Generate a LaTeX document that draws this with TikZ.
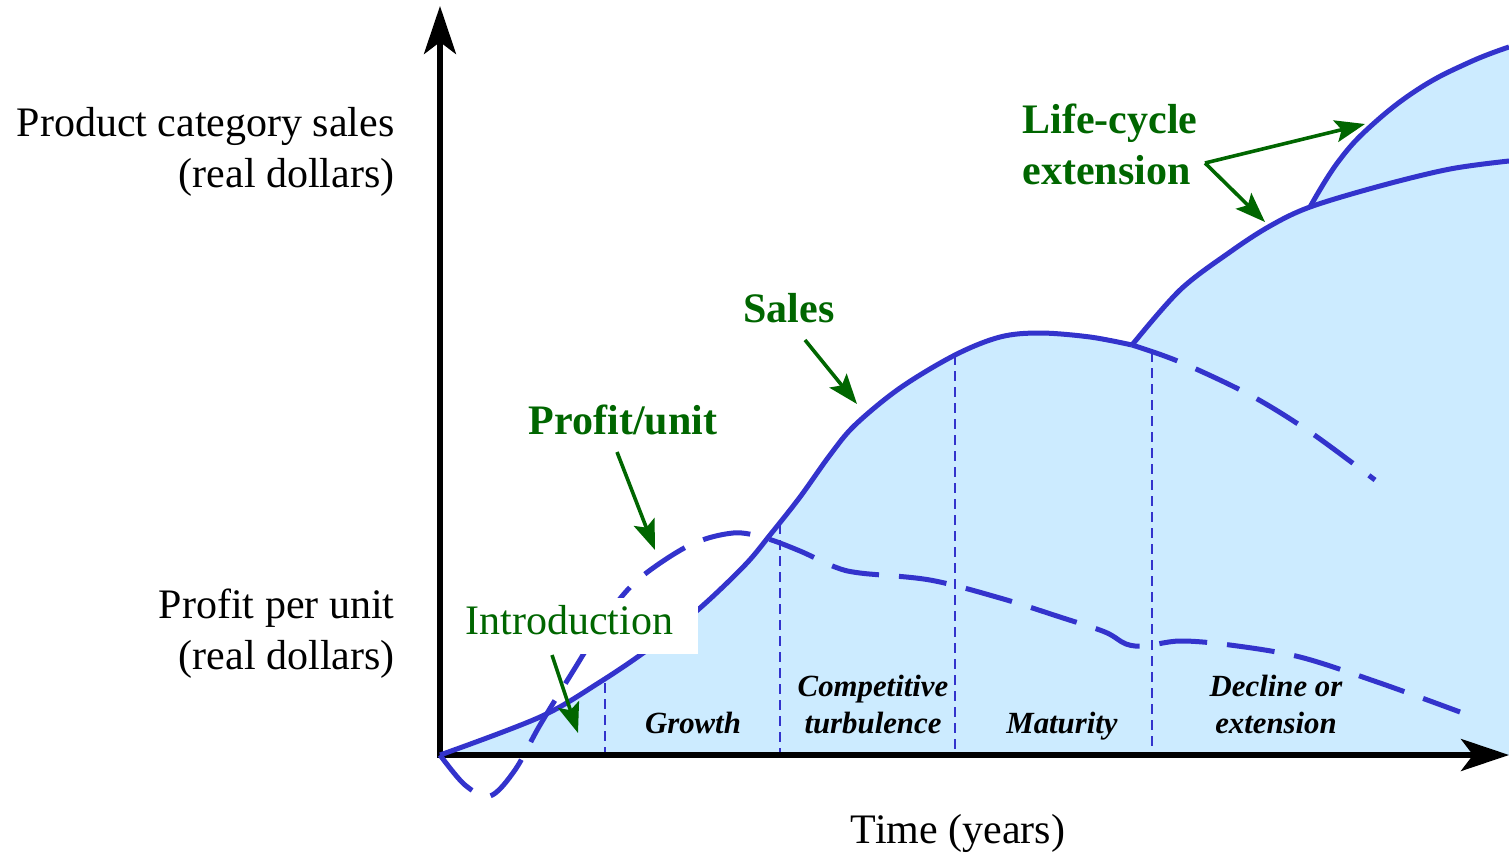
\documentclass[tikz,border=0pt]{standalone}
\usepackage{fontspec}
\setmainfont{Liberation Serif}
\usetikzlibrary{arrows.meta}
\definecolor{curveblue}{RGB}{51,51,204}
\definecolor{areablue}{RGB}{204,235,255}
\definecolor{lblgreen}{RGB}{0,102,0}
\tikzset{
  big/.style={font=\fontsize{21}{25.5}\selectfont, inner sep=0pt},
  biglabel/.style={big, text=lblgreen, font=\fontsize{21}{25.5}\selectfont\bfseries},
  phase/.style={font=\fontsize{15.4}{18.5}\selectfont\bfseries\itshape, align=center, inner sep=0pt},
  curve/.style={draw=curveblue, line width=2.5pt},
  dashcurve/.style={curve, dash pattern=on 24pt off 10pt},
  divider/.style={draw=curveblue, line width=0.8pt, dash pattern=on 5pt off 3pt},
  axis/.style={draw=black, line width=2.6pt, {Stealth[length=24pt,width=16pt,inset=6pt]}-{Stealth[length=24pt,width=16pt,inset=6pt]}},
  pointer/.style={draw=lblgreen, line width=1.8pt, -{Stealth[length=15pt,width=11pt,inset=3pt]}}
}
\begin{document}
\begin{tikzpicture}[x=0.5pt,y=-0.5pt]
\useasboundingbox (0,0) rectangle (1509,853);
% filled area under sales
\fill[areablue] (440,755)
  -- plot[smooth,tension=0.55] coordinates {(440,755) (540,717) (600,682) (650,648) (700,608) (745,565) (770,535) (800,497) (830,455) (855,425) (900,388) (955,355) (1000,337) (1040,333) (1090,337) (1132,345)}
  -- plot[smooth,tension=0.55] coordinates {(1132,345) (1180,290) (1230,252) (1270,226) (1310,207) (1380,186) (1450,169) (1509,161)}
  -- (1509,755) -- cycle;
\fill[areablue] plot[smooth,tension=0.7] coordinates {(1310,207) (1338,162) (1372,125) (1420,88) (1470,62) (1509,47)}
  -- (1509,300) -- (1310,300) -- cycle;
% phase dividers
\coordinate (d1t) at (605,683); \coordinate (d1b) at (605,755);
\coordinate (d2t) at (780,524); \coordinate (d2b) at (780,755);
\coordinate (d3t) at (955,355); \coordinate (d3b) at (955,755);
\coordinate (d4t) at (1152,352); \coordinate (d4b) at (1152,755);
\draw[divider] (d1t) -- (d1b);
\draw[divider] (d2t) -- (d2b);
\draw[divider] (d3t) -- (d3b);
\draw[divider] (d4t) -- (d4b);
% axes
\coordinate (ytip) at (440,6);
\coordinate (origin) at (440,755);
\coordinate (xtip) at (1509,755);
\draw[axis] (ytip) -- (origin) -- (xtip);
% sales curve
\draw[curve] plot[smooth,tension=0.55] coordinates {(440,755) (540,717) (600,682) (650,648) (700,608) (745,565) (770,535) (800,497) (830,455) (855,425) (900,388) (955,355) (1000,337) (1040,333) (1090,337) (1132,345)};
\draw[curve] plot[smooth,tension=0.55] coordinates {(1132,345) (1180,290) (1230,252) (1270,226) (1310,207) (1380,186) (1450,169) (1509,161)};
\draw[curve] plot[smooth,tension=0.7] coordinates {(1310,207) (1338,162) (1372,125) (1420,88) (1470,62) (1509,47)};
\draw[dashcurve] plot[smooth,tension=0.55] coordinates {(1132,345) (1180,362) (1250,395) (1310,432) (1375,480)};
% profit per unit curve
\draw[dashcurve] plot[smooth,tension=0.55] coordinates {(440,755) (465,785) (490,796) (515,770) (540,725) (575,668) (610,612) (640,578) (690,545) (733,533) (765,538) (800,551) (835,567) (860,573) (930,580) (1000,598) (1060,617) (1105,632) (1126,644) (1145,646) (1180,641) (1230,645) (1300,657) (1380,683) (1460,712)};
% Introduction label with white box
\fill[white] (460,598) rectangle (698,654);
\node[big, text=lblgreen, anchor=base west] (intro) at (465,634) {Introduction};
\coordinate (introstart) at (552,655);
\coordinate (introtip) at (578,733);
\draw[pointer] (introstart) -- (introtip);
% Profit/unit
\node[biglabel, anchor=base] (profit) at (623,434) {Profit/unit};
\coordinate (profittip) at (655,550);
\draw[pointer] (617,452) -- (profittip);
% Sales
\node[biglabel, anchor=base] (sales) at (789,322) {Sales};
\coordinate (salestip) at (857,404);
\draw[pointer] (805,340) -- (salestip);
% Life-cycle extension
\node[biglabel, anchor=base west, align=left] (lce) at (1022,184) {Life-cycle\\extension};
\coordinate (lcefork) at (1205,163);
\coordinate (lcetipA) at (1365,124);
\coordinate (lcetipB) at (1265,222);
\draw[pointer] (lcefork) -- (lcetipA);
\draw[pointer] (lcefork) -- (lcetipB);
% axis labels
\node[big, anchor=base east, align=right] (ylabA) at (395,187) {Product category sales\\(real dollars)};
\node[big, anchor=base east, align=right] (ylabB) at (395,669) {Profit per unit\\(real dollars)};
\node[big, anchor=base] (xlab) at (958,843) {Time (years)};
% phase labels
\node[phase, anchor=base] (growth) at (693,733) {Growth};
\node[phase, anchor=base] (turb) at (873,733) {Competitive\\turbulence};
\node[phase, anchor=base] (mat) at (1062,733) {Maturity};
\node[phase, anchor=base] (decl) at (1276,733) {Decline or\\extension};
\end{tikzpicture}
\end{document}
